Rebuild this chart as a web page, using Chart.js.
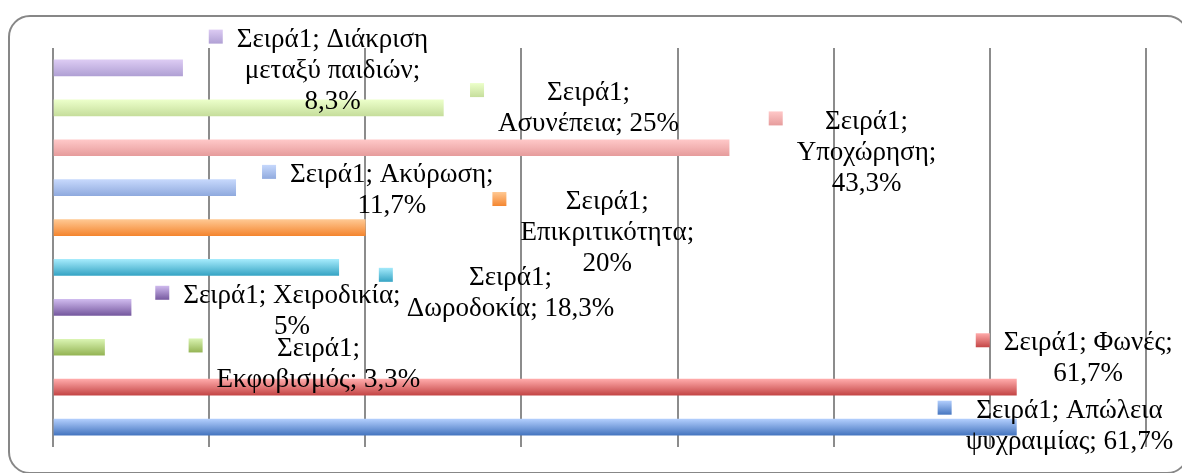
<!DOCTYPE html>
<html lang="el">
<head>
  <meta charset="UTF-8">
  <title>Σειρά1</title>
  <style>
    html, body {
      margin: 0;
      padding: 0;
      background: #fff;
    }
    body {
      width: 1182px;
      height: 473px;
      overflow: hidden;
      position: relative;
    }
    #frame {
      position: absolute;
      left: 8px;
      top: 15px;
      width: 1181px;
      height: 459px;
      border: 2px solid #878787;
      border-radius: 22px;
      box-sizing: border-box;
    }
    #chart-container {
      position: absolute;
      left: 0;
      top: 0;
      width: 1182px;
      height: 473px;
    }
  </style>
  <script src="https://cdn.jsdelivr.net/npm/chart.js"></script>
</head>
<body>
  <div id="frame"></div>
  <div id="chart-container">
    <canvas id="barChart" width="1182" height="473"></canvas>
  </div>

  <script>
    const seriesName = "Σειρά1";
    const categories = ["Διάκριση μεταξύ παιδιών", "Ασυνέπεια", "Υποχώρηση", "Ακύρωση", "Επικριτικότητα",
                        "Δωροδοκία", "Χειροδικία", "Εκφοβισμός", "Φωνές", "Απώλεια ψυχραιμίας"];
    const values = [8.3, 25, 43.3, 11.7, 20, 18.3, 5, 3.3, 61.7, 61.7];
    const xTicks = [0, 10, 20, 30, 40, 50, 60, 70];

    // top / bottom shade of each bar (Excel "vary colours by point")
    const topColors = ["#dccbf3", "#ecffca", "#ffc8c8", "#c6d8fc", "#ffc892", "#a4eafb", "#cfbaee", "#daf4b2", "#ffaaaa", "#b2cefd"];
    const bottomColors = ["#b0a0d4", "#c6de9c", "#e69c9c", "#90aade", "#f48630", "#36a4c4", "#76599f", "#94b454", "#c44646", "#4676c0"];

    // how many words go on each line of a data label
    const labelWrap = [[2, 2, 1], [1, 2], [1, 1, 1], [2, 1], [1, 1, 1], [1, 2], [2, 1], [1, 2], [2, 1], [2, 2]];
    // where each data label sits: x in axis units, y in category units (first line)
    const labelX = [17.9, 34.3, 52.1, 21.7, 35.5, 29.3, 15.3, 17.0, 66.3, 65.1];
    const labelY = [-0.71, 0.63, 1.34, 2.68, 3.36, 5.26, 5.71, 7.03, 6.90, 8.59];

    const FONT = '27px "Liberation Serif", serif';
    const LINE_H = 31;
    const BAR_H = 16;
    const MARK = 14;

    function fmt(v) {
      return String(v).replace(".", ",") + "%";
    }

    function labelLines(i) {
      const words = `${seriesName}; ${categories[i]}; ${fmt(values[i])}`.split(" ");
      const lines = [];
      let k = 0;
      labelWrap[i].forEach(n => {
        lines.push(words.slice(k, k + n).join(" "));
        k += n;
      });
      return lines;
    }

    function shade(ctx, i, y0, h) {
      const g = ctx.createLinearGradient(0, y0, 0, y0 + h);
      g.addColorStop(0, topColors[i]);
      g.addColorStop(1, bottomColors[i]);
      return g;
    }

    // vertical gradient on every bar, once positions are known
    const shadePlugin = {
      id: "barShade",
      beforeDatasetsDraw(chart) {
        const meta = chart.getDatasetMeta(0);
        meta.data.forEach((bar, i) => {
          bar.options.backgroundColor = shade(chart.ctx, i, bar.y - bar.height / 2, bar.height);
        });
      }
    };

    const labelPlugin = {
      id: "pointLabels",
      afterDatasetsDraw(chart) {
        const { ctx } = chart;
        const x = chart.scales.x;
        const y = chart.scales.y;
        ctx.save();
        ctx.font = FONT;
        ctx.textAlign = "center";
        ctx.textBaseline = "middle";
        categories.forEach((c, i) => {
          const lines = labelLines(i);
          const cx = x.getPixelForValue(labelX[i]);
          const cy = y.getPixelForValue(labelY[i]);
          const maxW = Math.max(...lines.map(l => ctx.measureText(l).width));
          const mx = cx - maxW / 2 - 14 - MARK;
          const my = cy - 3 - MARK / 2;
          ctx.fillStyle = shade(ctx, i, my, MARK);
          ctx.fillRect(mx, my, MARK, MARK);
          ctx.fillStyle = "#000";
          lines.forEach((l, k) => ctx.fillText(l, cx, cy + k * LINE_H));
        });
        ctx.restore();
      }
    };

    const ctx = document.getElementById("barChart").getContext("2d");
    new Chart(ctx, {
      type: "bar",
      data: {
        labels: categories,
        datasets: [{
          label: seriesName,
          data: values,
          barThickness: BAR_H,
          borderWidth: 0,
          backgroundColor: topColors
        }]
      },
      options: {
        indexAxis: "y",
        responsive: false,
        animation: false,
        devicePixelRatio: 1,
        layout: {
          padding: { left: 53, right: 36, top: 48, bottom: 26 }
        },
        plugins: {
          legend: { display: false },
          tooltip: { enabled: false }
        },
        scales: {
          x: {
            min: 0,
            max: 70,
            afterBuildTicks: (axis) => {
              axis.ticks = xTicks.map(v => ({ value: v }));
            },
            ticks: { display: false },
            grid: {
              color: "#8c8c8c",
              lineWidth: 2,
              drawTicks: false,
              tickLength: 0
            },
            border: { display: false }
          },
          y: {
            display: false
          }
        }
      },
      plugins: [shadePlugin, labelPlugin]
    });
  </script>
</body>
</html>
